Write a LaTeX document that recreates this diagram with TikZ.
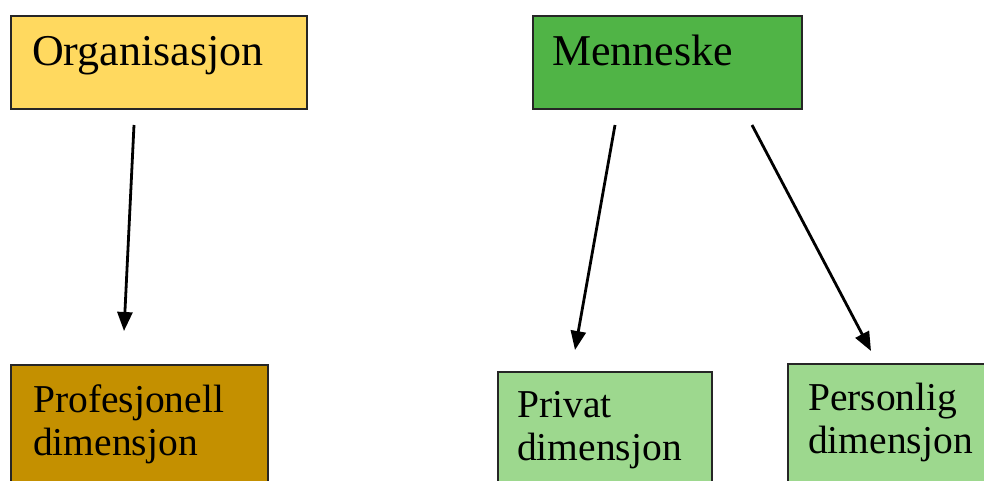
\documentclass[tikz,border=0pt]{standalone}
\usepackage{fontspec}
\setmainfont{Liberation Serif}
\usetikzlibrary{arrows.meta}
\definecolor{orgyellow}{RGB}{255,217,95}
\definecolor{mangreen}{RGB}{80,180,70}
\definecolor{probrown}{RGB}{196,144,0}
\definecolor{lightgreen}{RGB}{157,216,142}
\tikzset{
  box/.style={draw=black!85, line width=1.5pt, rectangle, inner sep=0pt, anchor=north west},
  toplabel/.style={anchor=base west, inner sep=0pt, font=\fontsize{44}{48}\selectfont},
  % base anchor of a two-line label sits on its second line
  dimlabel/.style={anchor=base west, inner sep=0pt, align=left, font=\fontsize{39.5}{43}\selectfont},
  link/.style={line width=2.8pt, -{Triangle[length=19pt,width=15pt]}},
}
\begin{document}
\begin{tikzpicture}[x=1pt,y=-1pt]
  \useasboundingbox (0,0) rectangle (984,480);
  \clip (0,0) rectangle (984,480);

  % upper boxes
  \node[box, fill=orgyellow, minimum width=296pt, minimum height=93pt] (org) at (10,15) {};
  \node[toplabel] (orgtext) at (32,65) {Organisasjon};
  \node[box, fill=mangreen, minimum width=269pt, minimum height=93pt] (man) at (532,15) {};
  \node[toplabel] (mantext) at (552,65) {Menneske};

  % lower boxes (running past the lower and right edges)
  \node[box, fill=probrown, minimum width=257pt, minimum height=140pt] (pro) at (10,364) {};
  \node[dimlabel] (protext) at (33,455) {Profesjonell\\dimensjon};
  \node[box, fill=lightgreen, minimum width=214pt, minimum height=140pt] (pri) at (497,371) {};
  \node[dimlabel] (pritext) at (517,460) {Privat\\dimensjon};
  \node[box, fill=lightgreen, minimum width=220pt, minimum height=140pt] (per) at (787,363) {};
  \node[dimlabel] (pertext) at (808,453) {Personlig\\dimensjon};

  % connector end points
  \coordinate (a1) at (134,125);
  \coordinate (b1) at (124,331);
  \coordinate (a2) at (615,125);
  \coordinate (b2) at (575,350);
  \coordinate (a3) at (752,125);
  \coordinate (b3) at (871,351);

  \draw[link] (a1) -- (b1);
  \draw[link] (a2) -- (b2);
  \draw[link] (a3) -- (b3);
\end{tikzpicture}
\end{document}
